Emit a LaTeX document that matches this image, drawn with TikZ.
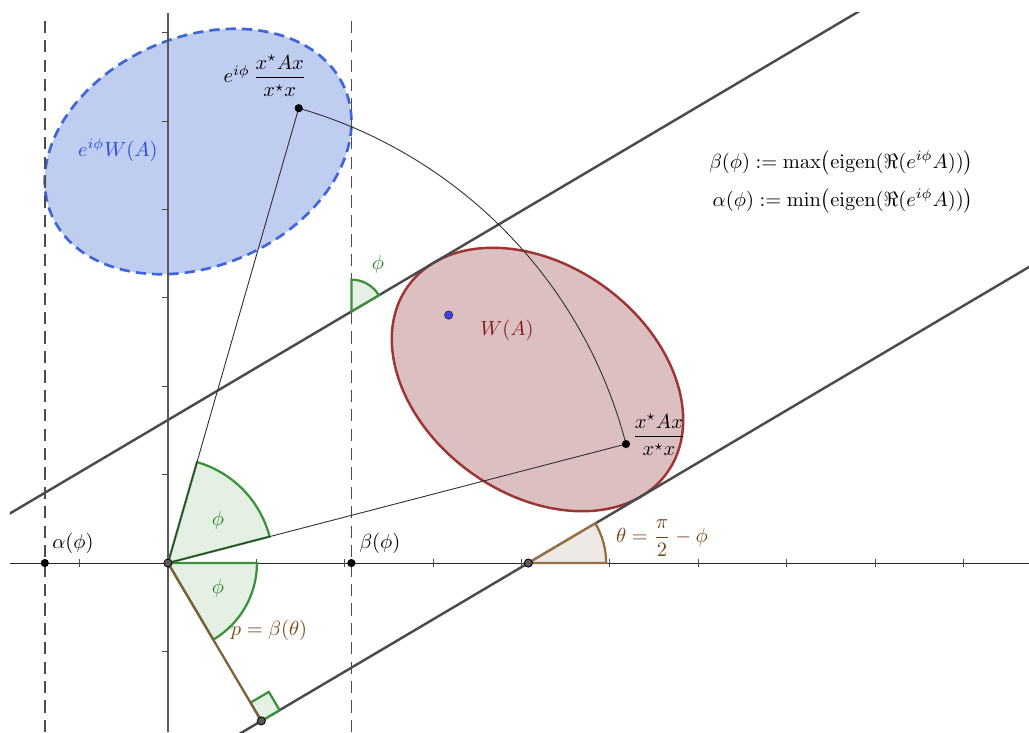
\documentclass[tikz,border=0pt]{standalone}
\usepackage{amsmath,amssymb}
\usepackage{xcolor}
\usepackage{tikz}

\definecolor{wfill}{RGB}{220,191,193}
\definecolor{wline}{RGB}{158,52,52}
\definecolor{wtext}{RGB}{140,25,25}
\definecolor{efill}{RGB}{191,205,240}
\definecolor{eline}{RGB}{62,100,222}
\definecolor{etext}{RGB}{35,75,220}
\definecolor{angfill}{RGB}{228,240,228}
\definecolor{angline}{RGB}{60,145,60}
\definecolor{angtext}{RGB}{40,130,40}
\definecolor{thfill}{RGB}{238,233,229}
\definecolor{thline}{RGB}{150,110,65}
\definecolor{thtext}{RGB}{115,70,20}
\definecolor{suppline}{RGB}{75,75,75}

\begin{document}
\begin{tikzpicture}[x=1.52cm,y=1.52cm,
  supp/.style={suppline,line width=1.2pt},
  bound/.style={black!70,line width=0.7pt,dash pattern=on 6pt off 3.5pt},
  thinline/.style={black!80,line width=0.45pt},
  sector/.style={fill=angfill,draw=angline,line width=1.1pt},
  dot/.style={circle,fill=black,inner sep=0pt,minimum size=4pt},
  gdot/.style={circle,fill=black!65,draw=black,line width=0.4pt,inner sep=0pt,minimum size=4pt}]
\useasboundingbox (-1.900,-1.912) rectangle (9.740,6.369);
\coordinate (O) at (0,0);
\coordinate (z) at (5.181,1.346);
\coordinate (ez) at (1.479,5.145);
\coordinate (foot) at (1.056,-1.786);
\coordinate (xi) at (4.077,0);
\coordinate (s) at (2.075,2.846);
\coordinate (up1) at (-2.430,0.181);
\coordinate (up2) at (8.759,6.798);
\coordinate (lo1) at (-0.227,-2.545);
\coordinate (lo2) at (10.963,4.072);
\filldraw[fill=efill,draw=eline,line width=1.3pt,dash pattern=on 5pt off 3pt,rotate around={23.5:(0.341,4.655)}] (0.341,4.655) ellipse [x radius=1.806,y radius=1.294];
\filldraw[fill=wfill,draw=wline,line width=1.2pt,rotate around={-35.9:(4.180,2.076)}] (4.180,2.076) ellipse [x radius=1.806,y radius=1.294];
\draw[black!85,line width=0.5pt] (-1.787,0) -- (9.74,0);
\draw[black!65,line width=0.65pt] (0,-1.912) -- (0,6.22);
\foreach \x in {-1,1,2,...,9} \draw[black!70,line width=0.5pt] (\x,-0.04) -- (\x,0.04);
\foreach \y in {-1,1,2,...,6} \draw[black!70,line width=0.5pt] (-0.07,\y) -- (0,\y);
\draw[bound] (-1.393,-1.912) -- (-1.393,6.154);
\draw[bound] (2.075,-1.912) -- (2.075,6.154);
\begin{scope}
\clip (-1.787,-1.912) rectangle (9.74,6.233);
\draw[supp] (up1) -- (up2);
\draw[supp] (lo1) -- (lo2);
\end{scope}
\filldraw[sector] (O) -- (14.56:1.188) arc[start angle=14.56,end angle=73.96,radius=1.188] -- cycle;
\filldraw[sector] (O) -- (-59.4:1.007) arc[start angle=-59.4,end angle=0,radius=1.007] -- cycle;
\filldraw[sector] (s) -- ++(30.6:0.36) arc[start angle=30.6,end angle=90,radius=0.36] -- cycle;
\filldraw[sector] (foot) -- ++(30.6:0.24) -- ++(120.6:0.24) -- ++(210.6:0.24) -- cycle;
\filldraw[fill=thfill,draw=thline,line width=1.1pt] (xi) -- ++(0.88,0) arc[start angle=0,end angle=30.6,radius=0.88] -- cycle;
\draw[thline!85!black,line width=1.1pt] (O) -- (foot);
\draw[thinline] (O) -- (z);
\draw[thinline] (O) -- (ez);
\draw[thinline] (z) arc[start angle=14.56,end angle=73.96,radius=5.353];
\node[dot] (zp) at (z) {};
\node[dot] (ezp) at (ez) {};
\node[dot] (ap) at (-1.393,0) {};
\node[dot] (bp) at (2.075,0) {};
\node[gdot] (Op) at (O) {};
\node[gdot] (xip) at (xi) {};
\node[gdot] (footp) at (foot) {};
\node[circle,fill=blue!75,draw=black!80,line width=0.4pt,inner sep=0pt,minimum size=4pt] (cp) at (3.175,2.805) {};
\node[text=angtext] (phiup) at (0.566,0.486) {$\phi$};
\node[text=angtext] (philo) at (0.566,-0.283) {$\phi$};
\node[text=angtext] (phis) at (2.376,3.382) {$\phi$};
\node (alab) at (-1.075,0.226) {$\alpha(\phi)$};
\node (blab) at (2.398,0.226) {$\beta(\phi)$};
\node[text=thtext] (thlab) at (5.588,0.283) {$\theta=\dfrac{\pi}{2}-\phi$};
\node[text=thtext] (plab) at (1.143,-0.758) {$p=\beta(\theta)$};
\node[text=wtext] (wlab) at (3.835,2.636) {$W(A)$};
\node (zlab) at (5.554,1.448) {$\dfrac{x^\star Ax}{x^\star x}$};
\node (ezlab) at (1.097,5.509) {$e^{i\phi}\,\dfrac{x^\star Ax}{x^\star x}$};
\node[text=etext] (elab) at (-0.566,4.672) {$e^{i\phi}W(A)$};
\node[anchor=east] (bdef) at (9.19,4.525) {$\beta(\phi):=\max\bigl(\mathrm{eigen}(\Re(e^{i\phi}A))\bigr)$};
\node[anchor=east] (adef) at (9.19,4.095) {$\alpha(\phi):=\min\bigl(\mathrm{eigen}(\Re(e^{i\phi}A))\bigr)$};
\end{tikzpicture}
\end{document}
